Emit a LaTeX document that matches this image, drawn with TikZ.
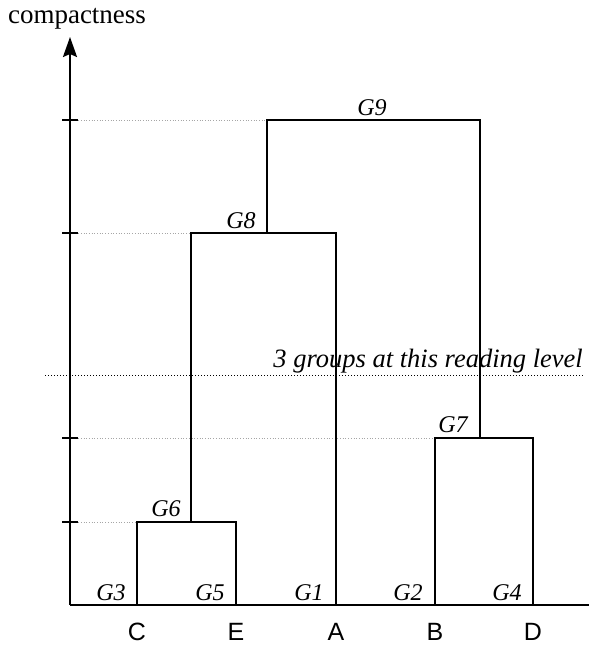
\documentclass[tikz,border=0pt]{standalone}
\usepackage{fontspec}
\setmainfont{Liberation Serif}
\newfontfamily\arialfont{Liberation Sans}
\usetikzlibrary{arrows.meta}
\begin{document}
\begin{tikzpicture}[x=1pt,y=1pt,
  tree/.style={line width=1.6pt},
  axisline/.style={line width=2pt},
  guide/.style={gray!70, dotted, line width=0.7pt},
  levelline/.style={black, dotted, line width=1pt},
  glabel/.style={font=\itshape\fontsize{24}{28}\selectfont, inner sep=0pt},
  leaflabel/.style={font=\arialfont\fontsize{25}{29}\selectfont, inner sep=0pt},
  titlelabel/.style={font=\fontsize{27}{31}\selectfont, inner sep=0pt}]
\useasboundingbox (0,0) rectangle (589,646);
% axis
\coordinate (o) at (70,41);
\coordinate (top) at (70,609);
\coordinate (xend) at (589,41);
% leaves
\coordinate (C) at (137,41);
\coordinate (E) at (236,41);
\coordinate (A) at (336,41);
\coordinate (B) at (435,41);
\coordinate (D) at (533,41);
% merge points
\coordinate (g6l) at (137,124);
\coordinate (g6r) at (236,124);
\coordinate (g6m) at (191,124);
\coordinate (g8l) at (191,413);
\coordinate (g8r) at (336,413);
\coordinate (g8m) at (267,413);
\coordinate (g9l) at (267,526);
\coordinate (g9r) at (480,526);
\coordinate (g7l) at (435,208);
\coordinate (g7r) at (533,208);
\coordinate (g7m) at (480,208);
% ticks
\coordinate (t9) at (70,526);
\coordinate (t8) at (70,413);
\coordinate (t7) at (70,208);
\coordinate (t6) at (70,124);
% reading level
\coordinate (rl) at (45,270);
\coordinate (rr) at (583,270);

% guides
\draw[guide] (t9) -- (g9l);
\draw[guide] (t8) -- (g8l);
\draw[guide] (t7) -- (g7l);
\draw[guide] (t6) -- (g6l);
\draw[levelline] (rl) -- (rr);

% tree
\draw[tree] (C) -- (g6l) -- (g6r) -- (E);
\draw[tree] (g6m) -- (g8l) -- (g8r) -- (A);
\draw[tree] (g8m) -- (g9l) -- (g9r) -- (g7m);
\draw[tree] (B) -- (g7l) -- (g7r) -- (D);

% axes
\draw[axisline] (o) -- (xend);
\draw[axisline, -{Stealth[length=20pt,width=14pt,inset=3pt]}] (o) -- (top);
\foreach \t in {t9,t8,t7,t6}
  \draw[line width=1.5pt] ([xshift=-8pt]\t) -- ([xshift=8pt]\t);

% labels
\node[titlelabel] (title) at (77,627) {compactness};
\node[glabel] (lg9) at (372,538) {G9};
\node[glabel] (lg8) at (241,425) {G8};
\node[glabel] (lg7) at (453,221) {G7};
\node[glabel] (lg6) at (166,137) {G6};
\node[glabel] (lg3) at (111,53) {G3};
\node[glabel] (lg5) at (210,53) {G5};
\node[glabel] (lg1) at (309,53) {G1};
\node[glabel] (lg2) at (408,53) {G2};
\node[glabel] (lg4) at (507,53) {G4};
\node[glabel, anchor=base east, font=\itshape\fontsize{26.5}{30}\selectfont] (lvl) at (583,278) {3 groups at this reading level};
\node[leaflabel] (lC) at (137,14) {C};
\node[leaflabel] (lE) at (236,14) {E};
\node[leaflabel] (lA) at (336,14) {A};
\node[leaflabel] (lB) at (435,14) {B};
\node[leaflabel] (lD) at (533,14) {D};
\end{tikzpicture}
\end{document}
